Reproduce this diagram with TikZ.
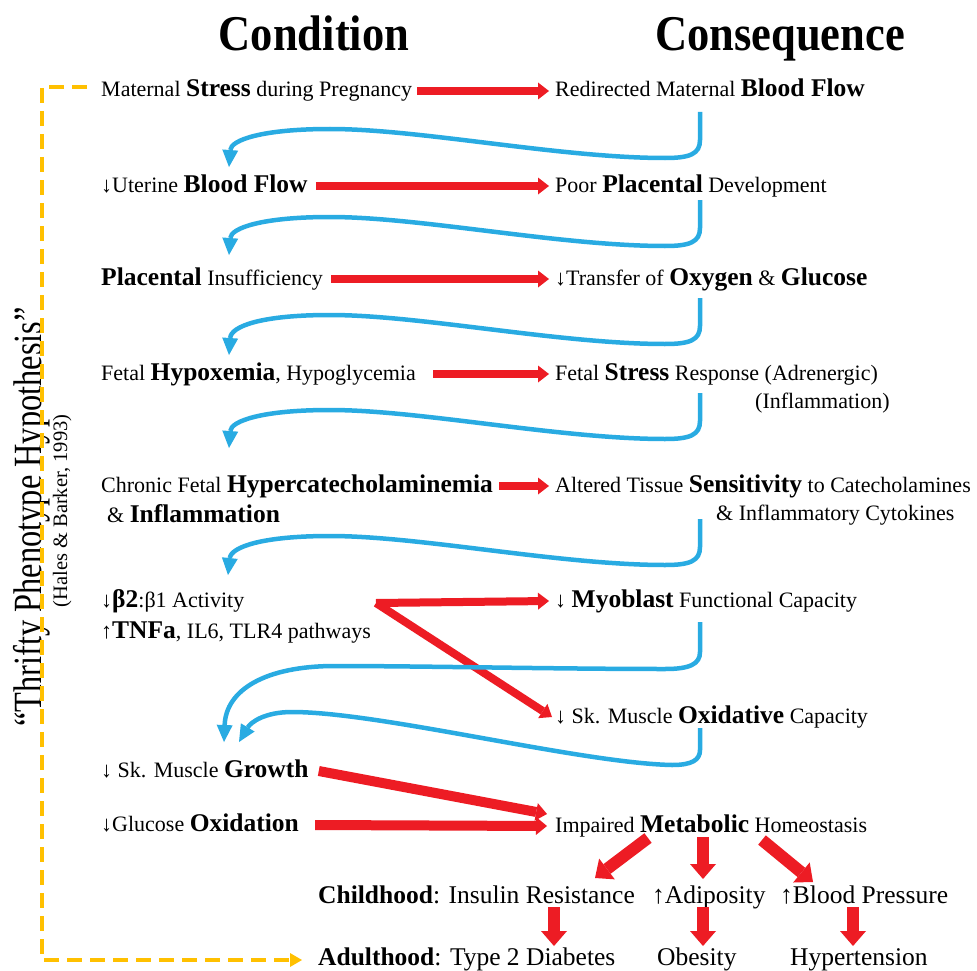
\documentclass[tikz,border=0pt]{standalone}
\usepackage{fontspec}
\setmainfont{Liberation Serif}
\usetikzlibrary{arrows.meta,calc}
\definecolor{arred}{HTML}{ED1C24}
\definecolor{arblue}{HTML}{29ABE2}
\definecolor{argold}{HTML}{FFC000}
\newcommand{\bw}[1]{{\fontsize{25.5pt}{28pt}\selectfont\bfseries #1}}
\newcommand{\nz}{\fontsize{22pt}{26pt}\selectfont}
\newcommand{\lz}{\fontsize{25.5pt}{28pt}\selectfont}
\newcommand{\hook}[3]{%
  \draw[bconn] (#1) -- (700,{#2+28}) .. controls (700,{#2+42}) and (690,{#2+46}) .. (665,{#2+46})
    .. controls (560,{#2+46}) and (420,{#2+17}) .. (330,{#2+17})
    .. controls (262,{#2+17}) and (231,{#2+28}) .. (#3);}
\begin{document}
\begin{tikzpicture}[x=1pt,y=-1pt,
  txt/.style={anchor=base west, inner sep=0pt, text height=17pt, text depth=5pt, font=\nz},
  redarr/.style={draw=arred, line width=8pt, -{Triangle[width=17pt,length=11pt,line width=0pt]}},
  redthick/.style={draw=arred, line width=10pt, -{Triangle[width=18pt,length=11pt,line width=0pt]}},
  redblock/.style={draw=arred, line width=12pt, -{Triangle[width=26pt,length=15pt,line width=0pt]}},
  bconn/.style={draw=arblue, line width=4.5pt, -{Triangle[width=16pt,length=17pt,line width=0pt]}},
  goldline/.style={draw=argold, line width=4pt, dash pattern=on 15pt off 8pt, -{Triangle[width=14pt,length=12pt,line width=0pt]}}]
\fill[white] (0,0) rectangle (977,971);
\path[use as bounding box] (0,0) rectangle (977,971);

% headers
\node[anchor=base, inner sep=0pt] (cond) at (314,51) {\fontsize{50pt}{50pt}\selectfont\bfseries\scalebox{0.89}[1]{Condition}};
\node[anchor=base, inner sep=0pt] (cons) at (780,51) {\fontsize{50pt}{50pt}\selectfont\bfseries\scalebox{0.89}[1]{Consequence}};

% vertical texts
\node[rotate=90, anchor=base, inner sep=0pt] (tph) at (41,517) {\fontsize{40pt}{40pt}\selectfont\scalebox{0.81}[1]{“Thrifty Phenotype Hypothesis”}};
\node[rotate=90, anchor=base, inner sep=0pt] (hb) at (67,511) {\fontsize{20.5pt}{22pt}\selectfont(Hales \& Barker, 1993)};

% left column
\node[txt] (l1) at (101,97) {Maternal \bw{Stress} during Pregnancy};
\node[txt] (l2) at (101,192) {↓Uterine \bw{Blood Flow}};
\node[txt] (l3) at (101,285) {\bw{Placental} Insufficiency};
\node[txt] (l4) at (101,380) {Fetal \bw{Hypoxemia}, Hypoglycemia};
\node[txt] (l5) at (101,492) {Chronic Fetal \bw{Hypercatecholaminemia}};
\node[txt] (l5b) at (107,522) {\& \bw{Inflammation}};
\node[txt] (l6) at (101,607) {↓\bw{β2}:β1 Activity};
\node[txt] (l6b) at (101,638) {↑\bw{TNFa}, IL6, TLR4 pathways};
\node[txt] (l8) at (101,777) {↓ Sk. Muscle \bw{Growth}};
\node[txt] (l9) at (101,831) {↓Glucose \bw{Oxidation}};

% right column
\node[txt] (r1) at (555,97) {Redirected Maternal \bw{Blood Flow}};
\node[txt] (r2) at (555,192) {Poor \bw{Placental} Development};
\node[txt] (r3) at (555,285) {↓Transfer of \bw{Oxygen} \& \bw{Glucose}};
\node[txt] (r4) at (555,380) {Fetal \bw{Stress} Response (Adrenergic)};
\node[txt] (r4b) at (755,408) {(Inflammation)};
\node[txt] (r5) at (555,492) {Altered Tissue \bw{Sensitivity} to Catecholamines};
\node[txt] (r5b) at (716,520) {\& Inflammatory Cytokines};
\node[txt] (r6) at (555,607) {↓ \bw{Myoblast} Functional Capacity};
\node[txt] (r7) at (555,723) {↓ Sk. Muscle \bw{Oxidative} Capacity};
\node[txt] (r8) at (555,832) {Impaired \bw{Metabolic} Homeostasis};

% outcomes
\node[txt,font=\lz] (ch) at (318,903) {\textbf{Childhood}: Insulin Resistance};
\node[txt,font=\lz] (ad) at (652,903) {↑Adiposity};
\node[txt,font=\lz] (bp) at (780,903) {↑Blood Pressure};
\node[txt,font=\lz] (at) at (318,965) {\textbf{Adulthood}: Type 2 Diabetes};
\node[txt,font=\lz] (ob) at (657,965) {Obesity};
\node[txt,font=\lz] (ht) at (790,965) {Hypertension};

% coordinates
\coordinate (fork) at (376,603);
\coordinate (gs) at (87,87);
\coordinate (m1s) at (648,838); \coordinate (m1e) at (595,878);
\coordinate (m2s) at (703,837); \coordinate (m2e) at (703,879);
\coordinate (m3s) at (762,840); \coordinate (m3e) at (813,882);
\coordinate (d1s) at (554,907); \coordinate (d1e) at (554,946);
\coordinate (d2s) at (703,907); \coordinate (d2e) at (703,946);
\coordinate (d3s) at (853,907); \coordinate (d3e) at (853,946);
\coordinate (b1s) at (700,112); \coordinate (b1e) at (229,167);
\coordinate (b2s) at (700,200); \coordinate (b2e) at (229,255);
\coordinate (b3s) at (700,298); \coordinate (b3e) at (229,355);
\coordinate (b4s) at (700,393); \coordinate (b4e) at (229,448);
\coordinate (b5s) at (700,519); \coordinate (b5e) at (228,575);
\coordinate (b6s) at (700,622); \coordinate (b6e) at (224,742);
\coordinate (b7s) at (700,728); \coordinate (b7e) at (239,742);

% orange dashed
\draw[goldline] (gs) -- (42,87) -- (42,960) -- ([xshift=-16pt]at.west |- 0,960);

% red arrows
\draw[redarr] ([xshift=5pt]l1.east) -- ([xshift=-6pt]r1.west);
\draw[redarr] ([xshift=8pt]l2.east) -- ([xshift=-6pt]r2.west);
\draw[redarr] ([xshift=8pt]l3.east) -- ([xshift=-6pt]r3.west);
\draw[redarr] ([xshift=17pt]l4.east) -- ([xshift=-6pt]r4.west);
\draw[redarr] ([xshift=6pt]l5.east) -- ([xshift=-6pt]r5.west);
\draw[redarr] (fork) -- ([xshift=-6pt]r6.west);
\draw[redarr] (fork) -- ([xshift=-3pt]r7.west);
\draw[redthick] ([xshift=10pt]l8.east) -- ([xshift=-8pt,yshift=12pt]r8.west);
\draw[redthick] ([xshift=16pt]l9.east) -- ([xshift=-8pt]r8.west);
\draw[redblock] (m1s) -- (m1e);
\draw[redblock] (m2s) -- (m2e);
\draw[redblock] (m3s) -- (m3e);
\draw[redblock] (d1s) -- (d1e);
\draw[redblock] (d2s) -- (d2e);
\draw[redblock] (d3s) -- (d3e);

% blue connectors
\hook{b1s}{112}{b1e}
\hook{b2s}{200}{b2e}
\hook{b3s}{298}{b3e}
\hook{b4s}{393}{b4e}
\hook{b5s}{519}{b5e}
\draw[bconn] (b6s) -- (700,652) .. controls (700,664) and (690,669) .. (665,669)
  .. controls (560,669) and (420,666) .. (335,666) .. controls (265,666) and (226,690) .. (b6e);
\draw[bconn] (b7s) -- (700,750) .. controls (700,760) and (692,765) .. (672,765)
  .. controls (580,763) and (380,712) .. (292,712) .. controls (265,712) and (251,722) .. (b7e);
\end{tikzpicture}
\end{document}
